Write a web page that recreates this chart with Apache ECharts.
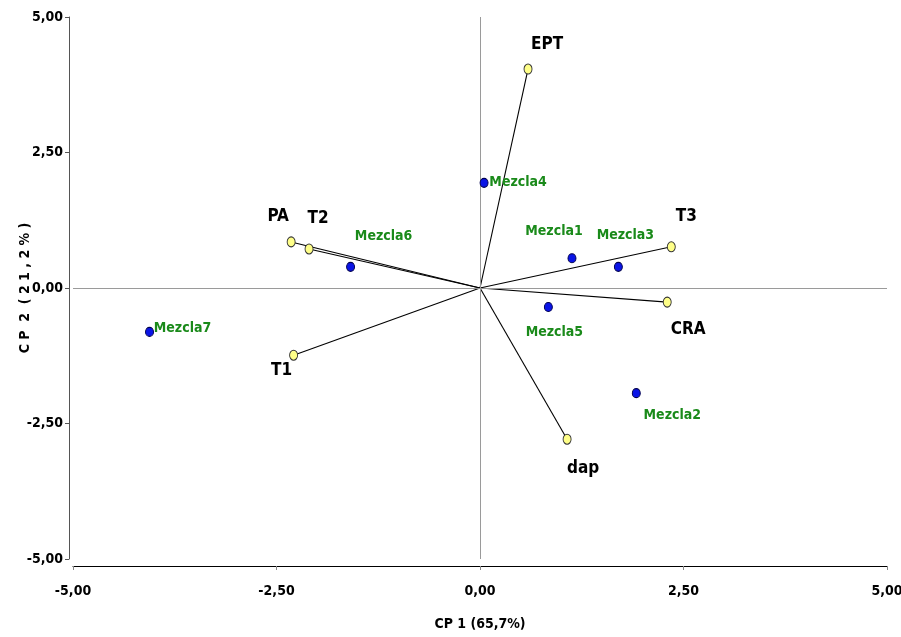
<!DOCTYPE html>
<html>
<head>
<meta charset="utf-8">
<title>Biplot CP1 vs CP2</title>
<script src="https://cdn.jsdelivr.net/npm/echarts@6/dist/echarts.min.js"></script>
<style>
  html, body { margin: 0; padding: 0; background: #fff; }
  #chart { width: 901px; height: 637px; }
</style>
</head>
<body>
<div id="chart"></div>
<script>
// Variables (loading vectors) on CP1 / CP2
const varNames = ['EPT', 'PA', 'T2', 'T1', 'T3', 'CRA', 'dap'];
const varCP1   = [0.59, -2.32, -2.10, -2.29, 2.35, 2.30, 1.07];
const varCP2   = [4.04,  0.85,  0.72, -1.24, 0.76, -0.26, -2.79];

// Mixtures (scores) on CP1 / CP2
const mixNames = ['Mezcla1', 'Mezcla2', 'Mezcla3', 'Mezcla4', 'Mezcla5', 'Mezcla6', 'Mezcla7'];
const mixCP1   = [1.13, 1.92, 1.70, 0.05, 0.84, -1.59, -4.06];
const mixCP2   = [0.55, -1.94, 0.39, 1.94, -0.35, 0.39, -0.81];

// Axis ticks
const axisMin = -5, axisMax = 5, axisStep = 2.5;

// Label placement around each mark (pixel offsets)
const varLabelOffset = {
  EPT: [19, -24], PA: [-13, -25], T2: [9, -30], T1: [-12, 15],
  T3: [15, -30], CRA: [21, 27], dap: [16, 29]
};
const mixLabelOffset = {
  Mezcla1: [-18, -27], Mezcla2: [36, 22], Mezcla3: [7, -32],
  Mezcla4: [34, 0], Mezcla5: [6, 25], Mezcla6: [33, -31], Mezcla7: [33, -4]
};

const FONT = '"Liberation Sans Narrow", "DejaVu Sans Condensed", sans-serif';
const fmt = v => v.toFixed(2).replace('.', ',');

const chart = echarts.init(document.getElementById('chart'), null, { renderer: 'canvas' });

// One segment from the origin to each variable
const vectorSeries = varNames.map((n, i) => ({
  type: 'line',
  name: 'vec-' + n,
  data: [[0, 0], [varCP1[i], varCP2[i]]],
  showSymbol: false,
  symbol: 'none',
  silent: true,
  lineStyle: { color: '#000', width: 1.1 },
  z: 3
}));

const option = {
  animation: false,
  grid: { left: 73, right: 14, top: 17, bottom: 78, containLabel: false, outerBoundsMode: 'none' },
  xAxis: {
    type: 'value', min: axisMin, max: axisMax, interval: axisStep,
    offset: 7,
    name: 'CP 1 (65,7%)', nameLocation: 'middle', nameGap: 51, nameMoveOverlap: false,
    nameTextStyle: { fontFamily: FONT, fontWeight: 'bold', fontSize: 14, color: '#000' },
    axisLine: { onZero: false, lineStyle: { color: '#000', width: 1 } },
    axisTick: { show: true, length: 4, inside: false, lineStyle: { color: '#888' } },
    axisLabel: { formatter: fmt, fontFamily: FONT, fontWeight: 'bold', fontSize: 14, color: '#000', margin: 18 },
    splitLine: { show: false }
  },
  yAxis: {
    type: 'value', min: axisMin, max: axisMax, interval: axisStep,
    offset: 4,
    name: 'C P  2  ( 2 1 , 2 % )', nameLocation: 'middle', nameGap: 37, nameMoveOverlap: false,
    nameTextStyle: { fontFamily: FONT, fontWeight: 'bold', fontSize: 14, color: '#000' },
    axisLine: { onZero: false, lineStyle: { color: '#555', width: 1 } },
    axisTick: { show: true, length: 4, lineStyle: { color: '#555' } },
    axisLabel: { formatter: fmt, fontFamily: FONT, fontWeight: 'bold', fontSize: 14, color: '#000', margin: 6 },
    splitLine: { show: false }
  },
  series: [
    // Reference lines through the origin
    {
      type: 'scatter', data: [], silent: true,
      markLine: {
        silent: true, symbol: 'none', animation: false,
        label: { show: false },
        lineStyle: { color: '#9a9a9a', width: 1, type: 'solid' },
        data: [{ xAxis: 0 }, { yAxis: 0 }]
      },
      z: 1
    },
    ...vectorSeries,
    {
      type: 'scatter',
      name: 'variables',
      data: varNames.map((n, i) => ({
        value: [varCP1[i], varCP2[i]], name: n,
        label: { offset: varLabelOffset[n] }
      })),
      symbol: 'circle', symbolSize: [8, 10],
      itemStyle: { color: '#ffff88', borderColor: '#333', borderWidth: 1, opacity: 1 },
      label: {
        show: true, position: 'inside', formatter: p => p.name,
        fontFamily: FONT, fontWeight: 'bold', fontSize: 17, color: '#000'
      },
      z: 5
    },
    {
      type: 'scatter',
      name: 'mezclas',
      data: mixNames.map((n, i) => ({
        value: [mixCP1[i], mixCP2[i]], name: n,
        label: { offset: mixLabelOffset[n] }
      })),
      symbol: 'circle', symbolSize: [8, 9],
      itemStyle: { color: '#0a14e6', borderColor: '#000050', borderWidth: 1, opacity: 1 },
      label: {
        show: true, position: 'inside', formatter: p => p.name,
        fontFamily: FONT, fontWeight: 'bold', fontSize: 14, color: '#1a8a1a'
      },
      z: 5
    }
  ]
};

chart.setOption(option);
</script>
</body>
</html>
